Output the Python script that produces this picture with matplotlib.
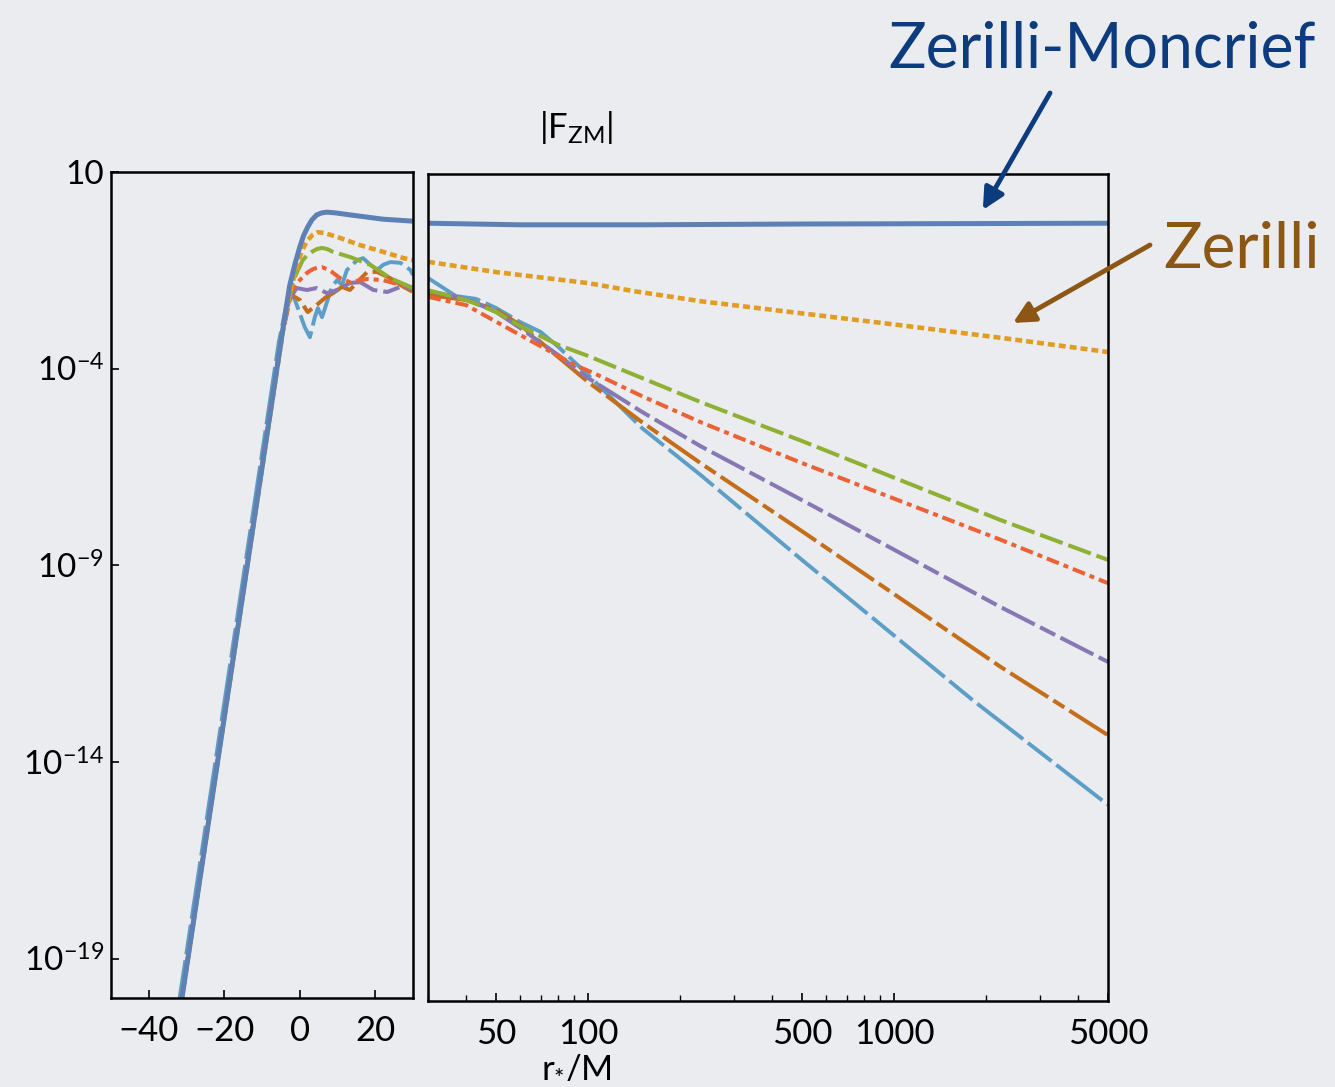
import numpy as np
import matplotlib
matplotlib.use("Agg")
import matplotlib.pyplot as plt
from matplotlib.ticker import FixedLocator, FuncFormatter, NullFormatter, LogLocator

plt.rcParams['font.family'] = ['Lato', 'DejaVu Sans']
plt.rcParams['mathtext.fontset'] = 'custom'
plt.rcParams['mathtext.rm'] = 'Lato'
plt.rcParams['mathtext.it'] = 'Lato:italic'
plt.rcParams['lines.scale_dashes'] = False

BG = '#eaecf0'

# --- near zone (linear r*/M), values are log10 |F| ---
zm_left_x = [-32, -4, -2.7, -1.3, 0, 1, 2.1, 3.2, 4.5, 5.8, 7.2, 9.5, 13.3, 22.1, 30]
zm_left_exp = [-20.5, -2.7, -1.9, -1.35, -0.91, -0.62, -0.40, -0.22, -0.09, -0.04, -0.02, -0.04, -0.09, -0.20, -0.25]

zer_left_x = [-32, -4, -2.7, -1.3, 0, 1, 2.1, 3.4, 4.8, 6.5, 9.9, 16, 22.1, 27.5, 30]
zer_left_exp = [-20.5, -2.75, -2.1, -1.6, -1.16, -0.92, -0.73, -0.60, -0.53, -0.55, -0.65, -0.86, -1.03, -1.19, -1.24]

green_left_x = [-32, -4, -1.9, -0.5, 0.8, 2.0, 3.2, 4.5, 5.9, 7.3, 8.8, 13.3, 18.7, 24, 30]
green_left_exp = [-20.5, -2.75, -1.82, -1.5, -1.24, -1.11, -1.03, -0.96, -0.93, -0.96, -1.03, -1.16, -1.36, -1.70, -1.95]

red_left_x = [-32, -5, -2.5, -1, 0.8, 2.1, 3.5, 4.7, 5.9, 7.2, 8.5, 10.7, 13.3, 17.9, 22.1, 26.7, 30]
red_left_exp = [-20.5, -3.3, -2.1, -1.85, -1.67, -1.55, -1.47, -1.43, -1.42, -1.47, -1.54, -1.70, -1.80, -1.72, -1.75, -1.87, -1.95]

purple_left_x = [-32, -5, -2.5, -0.8, 1.9, 4.5, 7.2, 9.9, 13.3, 16, 19.5, 23.2, 26.7, 30]
purple_left_exp = [-20.5, -3.3, -2.2, -1.95, -2.0, -1.95, -2.08, -2.0, -1.82, -1.80, -2.0, -2.05, -1.92, -1.95]

brown_left_x = [-32, -5, -2.7, 0, 2.1, 4.5, 6.7, 8.8, 11.2, 13.3, 15.2, 17.9, 20.5, 24, 27.5, 30]
brown_left_exp = [-20.5, -3.3, -2.1, -2.25, -2.56, -2.38, -2.20, -2.08, -1.92, -2.0, -1.80, -1.54, -1.54, -1.70, -1.92, -2.05]

cyan_left_x = [-32.6, -5.5, -2.7, -1.3, 0, 1.3, 2.7, 4.0, 4.8, 5.9, 6.7, 8.5, 9.9, 11.2, 12.5,
               13.3, 15.2, 16.8, 18.7, 20.5, 22.1, 24, 26.7, 29.3, 30]
cyan_left_exp = [-20.5, -3.3, -2.0, -2.25, -2.59, -2.94, -3.20, -2.69, -2.46, -2.69, -2.46, -1.92, -1.75, -1.87, -1.49,
                 -1.42, -1.24, -1.19, -1.36, -1.49, -1.36, -1.29, -1.31, -1.49, -1.62]

# --- far zone (log r*/M) ---
zm_right_x = [30, 60, 150, 500, 5000]
zm_right_exp = [-0.25, -0.29, -0.29, -0.27, -0.25]

zer_right_x = [30, 50, 100, 140, 233, 1000, 2233, 5000]
zer_right_exp = [-1.23, -1.49, -1.77, -1.97, -2.23, -2.82, -3.16, -3.52]

green_right_x = [30, 40, 50, 60, 80, 100, 150, 233, 500, 2233, 5000]
green_right_exp = [-1.95, -2.20, -2.50, -2.86, -3.34, -3.62, -4.18, -4.79, -5.78, -7.79, -8.80]

red_right_x = [30, 40, 56, 91, 104, 150, 233, 500, 2233, 5000]
red_right_exp = [-2.12, -2.33, -2.96, -3.86, -4.05, -4.64, -5.30, -6.34, -8.29, -9.39]

purple_right_x = [30, 40, 50, 60, 80, 100, 150, 233, 500, 2233, 5000]
purple_right_exp = [-1.97, -2.17, -2.50, -2.91, -3.60, -4.18, -5.04, -5.91, -7.28, -10.0, -11.39]

brown_right_x = [30, 40, 50, 60, 80, 100, 150, 233, 500, 2233, 5000]
brown_right_exp = [-2.07, -2.20, -2.45, -2.83, -3.65, -4.28, -5.30, -6.34, -8.07, -11.52, -13.25]

cyan_right_x = [30, 37, 43, 50, 60, 70, 80, 100, 150, 233, 500, 1807, 5000]
cyan_right_exp = [-1.64, -2.10, -2.17, -2.40, -2.76, -3.01, -3.39, -4.10, -5.45, -6.64, -8.80, -12.36, -15.02]

left_yticks = [1, -4, -9, -14, -19]
left_xticks = [-40, -20, 0, 20]
right_xticks = [50, 100, 500, 1000, 5000]

# colour, linestyle, width for each curve (drawn bottom to top)
styles = {
    'cyan':   ('#5d9ec7', (0, (41.8, 4.3, 21.6, 4.3)), 2.8),
    'brown':  ('#c56e1a', (0, (32.4, 4.3, 9.4, 4.3)), 2.9),
    'purple': ('#8778b3', (0, (26.6, 4.3, 12.2, 4.3)), 2.9),
    'red':    ('#eb6235', (0, (9.4, 3.6, 3.6, 3.6)), 2.9),
    'green':  ('#8fb032', (0, (17.3, 4.3)), 2.9),
    'zer':    ('#e19c24', (0, (5.0, 2.9)), 3.3),
    'zm':     ('#5e81b5', '-', 3.6),
}
left_data = {
    'cyan': (cyan_left_x, cyan_left_exp), 'brown': (brown_left_x, brown_left_exp),
    'purple': (purple_left_x, purple_left_exp), 'red': (red_left_x, red_left_exp),
    'green': (green_left_x, green_left_exp), 'zer': (zer_left_x, zer_left_exp),
    'zm': (zm_left_x, zm_left_exp),
}
right_data = {
    'cyan': (cyan_right_x, cyan_right_exp), 'brown': (brown_right_x, brown_right_exp),
    'purple': (purple_right_x, purple_right_exp), 'red': (red_right_x, red_right_exp),
    'green': (green_right_x, green_right_exp), 'zer': (zer_right_x, zer_right_exp),
    'zm': (zm_right_x, zm_right_exp),
}

W, H = 1335, 1087
fig = plt.figure(figsize=(W / 100, H / 100), dpi=100, facecolor=BG)
axl = fig.add_axes([111 / W, 1 - 998 / H, 302 / W, 826 / H])
axr = fig.add_axes([428 / W, 1 - 1001 / H, 680 / W, 827 / H])

for name, (c, ls, lw) in styles.items():
    xs, ex = left_data[name]
    axl.plot(xs, 10.0 ** np.array(ex), color=c, linestyle=ls, lw=lw,
             dash_capstyle='butt', solid_capstyle='round', solid_joinstyle='round')
    xs, ex = right_data[name]
    axr.plot(xs, 10.0 ** np.array(ex), color=c, linestyle=ls, lw=lw,
             dash_capstyle='butt', solid_capstyle='round', solid_joinstyle='round')

for ax in (axl, axr):
    ax.set_facecolor('none')
    ax.set_yscale('log')
    ax.set_ylim(1e-20, 10)
    for sp in ax.spines.values():
        sp.set_linewidth(1.8)
        sp.set_color('black')
    ax.tick_params(direction='in', length=6, width=1.2, labelsize=25, colors='black')

axl.set_xlim(-50, 30)
axl.xaxis.set_major_locator(FixedLocator(left_xticks))
axl.yaxis.set_major_locator(FixedLocator([10.0 ** e for e in left_yticks]))
axl.yaxis.set_minor_locator(FixedLocator([]))
axl.yaxis.set_major_formatter(FuncFormatter(
    lambda v, p: '10' if abs(np.log10(v) - 1) < 1e-6
    else r'$\mathregular{10^{%d}}$' % round(np.log10(v))))
axl.tick_params(axis='x', pad=12)
axl.tick_params(axis='y', pad=5, labelsize=24)

axr.set_xscale('log')
axr.set_xlim(30, 5000)
axr.xaxis.set_major_locator(FixedLocator(right_xticks))
axr.xaxis.set_major_formatter(FuncFormatter(lambda v, p: '%d' % v))
axr.xaxis.set_minor_locator(LogLocator(base=10, subs=np.arange(2, 10)))
axr.xaxis.set_minor_formatter(NullFormatter())
axr.tick_params(axis='x', which='minor', direction='in', length=4, width=1.0)
axr.tick_params(axis='x', pad=12)
axr.yaxis.set_major_locator(FixedLocator([]))
axr.yaxis.set_minor_locator(FixedLocator([]))

fig.text(576 / W, 1 - 127 / H, r'$\mathregular{|F_{ZM}|}$', ha='center', va='center', fontsize=25)
fig.text(576 / W, 1 - 1066 / H, r'$\mathregular{r_{*}/M}$', ha='center', va='center', fontsize=25)

zm_col = '#0c3c7d'
zer_col = '#8c5714'
fig.text(888 / W, 1 - 68 / H, 'Zerilli-Moncrief', color=zm_col, fontsize=45,
         ha='left', va='baseline')
fig.text(1163 / W, 1 - 268 / H, 'Zerilli', color=zer_col, fontsize=46,
         ha='left', va='baseline')

axr.annotate('', xy=(1950, 1.22), xycoords='data',
             xytext=(1050, H - 93), textcoords='figure pixels',
             arrowprops=dict(arrowstyle='-|>', color=zm_col, lw=3.5,
                             mutation_scale=32, shrinkA=0, shrinkB=0),
             annotation_clip=False)
axr.annotate('', xy=(2445, 1.65e-3), xycoords='data',
             xytext=(1150, H - 245), textcoords='figure pixels',
             arrowprops=dict(arrowstyle='-|>', color=zer_col, lw=3.5,
                             mutation_scale=32, shrinkA=0, shrinkB=0),
             annotation_clip=False)

fig.savefig('out.png', dpi=100, facecolor=BG)
